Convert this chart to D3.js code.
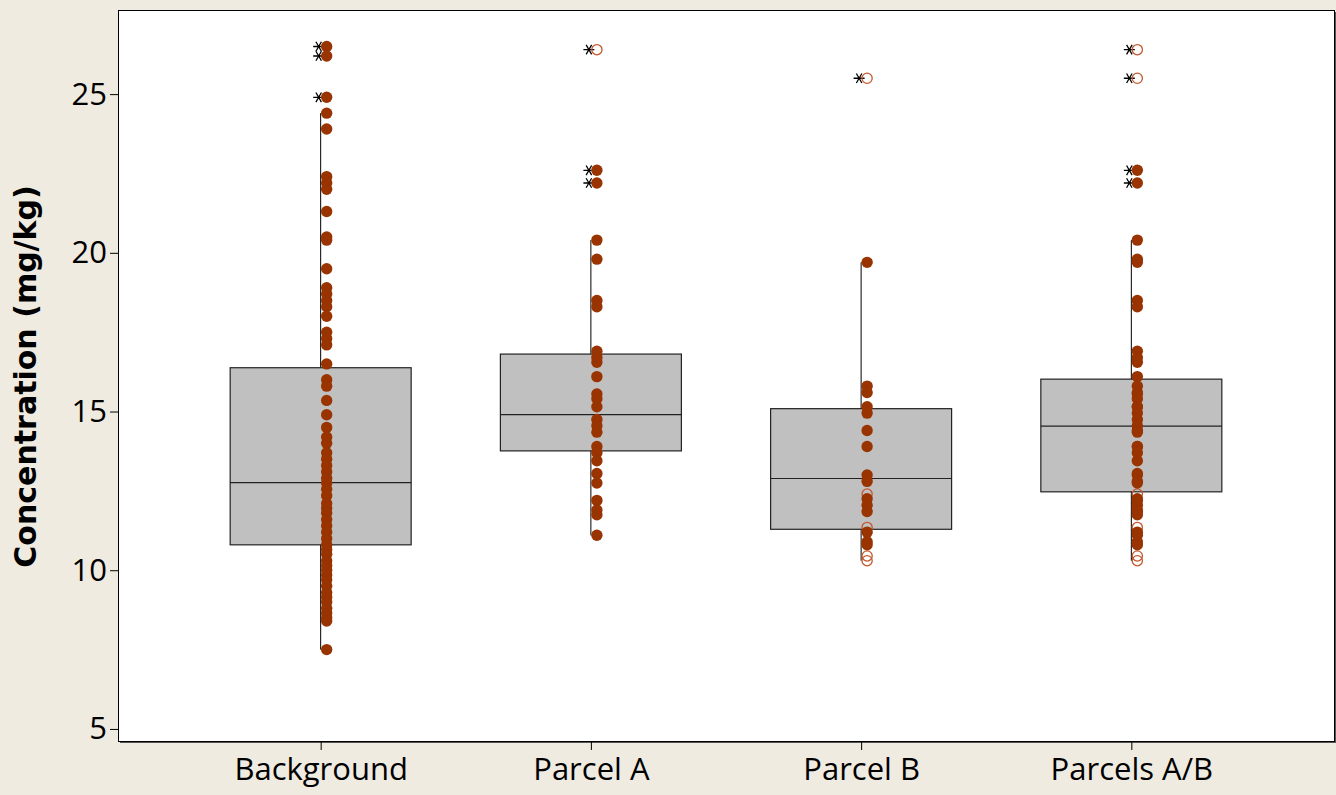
<!DOCTYPE html>
<html><head><meta charset="utf-8">
<script src="https://cdn.jsdelivr.net/npm/d3@7"></script>
<style>html,body{margin:0;padding:0;background:#efebe1;} svg{display:block}</style>
</head><body><svg id="chart" width="1336" height="795"></svg>
<script>
// ---- data ----
const categories = ["Background", "Parcel A", "Parcel B", "Parcels A/B"];
const yTicks = [5, 10, 15, 20, 25];
const q1 = [10.80, 13.76, 11.29, 12.47];
const median = [12.76, 14.90, 12.89, 14.54];
const q3 = [16.38, 16.81, 15.09, 16.02];
const whiskerLow = [7.5, 11.1, 10.3, 10.3];
const whiskerHigh = [24.4, 20.4, 19.7, 20.4];

const backgroundFilled = [24.4, 23.9, 22.4, 22.2, 22.0, 21.3, 20.5, 20.4, 19.5, 18.9, 18.7, 18.5, 18.3, 18.0,
  17.5, 17.3, 17.1, 16.5, 16.0, 15.8, 15.35, 14.9, 14.5, 14.2, 14.0, 13.7, 13.5, 13.3, 13.1, 12.9, 12.75,
  12.55, 12.35, 12.1, 11.95, 11.8, 11.6, 11.4, 11.2, 11.0, 10.8, 10.65, 10.5, 10.3, 10.15, 10.0, 9.85, 9.7,
  9.5, 9.3, 9.15, 9.0, 8.8, 8.65, 8.5, 8.4, 7.5];
const backgroundOpen = [];
const backgroundOutFilled = [26.5, 26.2, 24.9];
const backgroundOutOpen = [];

const parcelAFilled = [20.4, 19.8, 18.5, 18.3, 16.9, 16.7, 16.55, 16.1, 15.55, 15.4, 15.15, 14.75, 14.55,
  14.35, 13.9, 13.7, 13.45, 13.05, 12.75, 12.2, 11.9, 11.75, 11.1];
const parcelAOpen = [];
const parcelAOutFilled = [22.6, 22.2];
const parcelAOutOpen = [26.4];

const parcelBFilled = [19.7, 15.8, 15.6, 15.15, 14.95, 14.4, 13.9, 13.0, 12.8, 12.25, 12.05, 11.85, 11.2, 10.9, 10.8];
const parcelBOpen = [12.4, 11.35, 10.45, 10.3];
const parcelBOutFilled = [];
const parcelBOutOpen = [25.5];

const parcelsABFilled = [20.4, 19.8, 19.7, 18.5, 18.3, 16.9, 16.7, 16.55, 16.1, 15.8, 15.6, 15.55, 15.4, 15.15,
  15.15, 14.95, 14.75, 14.55, 14.4, 14.35, 13.9, 13.9, 13.7, 13.45, 13.05, 13.0, 12.8, 12.75, 12.25, 12.2,
  12.05, 11.9, 11.85, 11.75, 11.2, 11.1, 10.9, 10.8];
const parcelsABOpen = [12.4, 11.35, 10.45, 10.3];
const parcelsABOutFilled = [22.6, 22.2];
const parcelsABOutOpen = [26.4, 25.5];

const filledSets = [backgroundFilled, parcelAFilled, parcelBFilled, parcelsABFilled];
const openSets = [backgroundOpen, parcelAOpen, parcelBOpen, parcelsABOpen];
const outFilledSets = [backgroundOutFilled, parcelAOutFilled, parcelBOutFilled, parcelsABOutFilled];
const outOpenSets = [backgroundOutOpen, parcelAOutOpen, parcelBOutOpen, parcelsABOutOpen];

// ---- layout ----
const L = 118, R = 1334, T = 10, B = 741;
const svg = d3.select("#chart");
const x = d3.scalePoint().domain(categories).range([L, R]).padding(0.75);
const y = d3.scaleLinear().domain([4.62, 27.65]).range([B, T]);
const boxW = 181;
const ptDx = 6, astDx = -2, r = 5.7;
const fillCol = "#993300", openCol = "#c4582c";

// plot area with shadow
svg.append("rect").attr("x", L + 2).attr("y", T + 2).attr("width", R - L).attr("height", B - T).attr("fill", "#555");
svg.append("rect").attr("x", L).attr("y", T).attr("width", R - L).attr("height", B - T)
  .attr("fill", "#fff").attr("stroke", "#000").attr("stroke-width", 1).attr("shape-rendering", "crispEdges");

// axes
const yAxis = d3.axisLeft(y).tickValues(yTicks).tickSize(8).tickPadding(3).tickFormat(d3.format("d"));
const gy = svg.append("g").attr("transform", `translate(${L},0)`).call(yAxis);
gy.select(".domain").remove();
gy.selectAll("text").attr("font-family", "'Open Sans', sans-serif").attr("font-size", 31).attr("fill", "#000");
gy.selectAll("line").attr("stroke", "#000");

const xAxis = d3.axisBottom(x).tickSize(9).tickPadding(8);
const gx = svg.append("g").attr("transform", `translate(0,${B})`).call(xAxis);
gx.select(".domain").remove();
gx.selectAll("text").attr("font-family", "'Open Sans', sans-serif").attr("font-size", 31).attr("fill", "#000");
gx.selectAll("line").attr("stroke", "#000");

svg.append("text").attr("transform", `translate(36,${(183 + 570) / 2}) rotate(-90)`)
  .attr("text-anchor", "middle").attr("font-family", "'DejaVu Sans', sans-serif").attr("font-weight", "bold")
  .attr("font-size", 30).text("Concentration (mg/kg)");

// boxes
const g = svg.append("g");
categories.forEach((c, i) => {
  const cx = x(c);
  g.append("line").attr("x1", cx).attr("x2", cx).attr("y1", y(q3[i])).attr("y2", y(whiskerHigh[i])).attr("stroke", "#000");
  g.append("line").attr("x1", cx).attr("x2", cx).attr("y1", y(q1[i])).attr("y2", y(whiskerLow[i])).attr("stroke", "#000");
  g.append("rect").attr("x", cx - boxW / 2).attr("y", y(q3[i])).attr("width", boxW).attr("height", y(q1[i]) - y(q3[i]))
    .attr("fill", "#c0c0c0").attr("stroke", "#222").attr("stroke-width", 1.2);
  g.append("line").attr("x1", cx - boxW / 2).attr("x2", cx + boxW / 2).attr("y1", y(median[i])).attr("y2", y(median[i]))
    .attr("stroke", "#222").attr("stroke-width", 1.2);
});

// asterisks for outliers
function asterisk(cx, cy, s) {
  let p = "";
  [0, 60, 120].forEach(a => {
    const rad = a * Math.PI / 180, dx = Math.cos(rad) * s, dy = Math.sin(rad) * s;
    p += `M${cx - dx},${cy - dy}L${cx + dx},${cy + dy}`;
  });
  return p;
}
categories.forEach((c, i) => {
  const cx = x(c);
  const outs = outFilledSets[i].concat(outOpenSets[i]);
  g.selectAll(null).data(outs).enter().append("path")
    .attr("d", v => asterisk(cx + astDx, y(v), 5.5)).attr("stroke", "#000").attr("stroke-width", 1.3).attr("fill", "none");
  g.selectAll(null).data(openSets[i].concat(outOpenSets[i])).enter().append("circle")
    .attr("cx", cx + ptDx).attr("cy", v => y(v)).attr("r", r - 0.6)
    .attr("fill", "none").attr("stroke", openCol).attr("stroke-width", 1.3);
  g.selectAll(null).data(filledSets[i].concat(outFilledSets[i])).enter().append("circle")
    .attr("cx", cx + ptDx).attr("cy", v => y(v)).attr("r", r).attr("fill", fillCol);
});
</script></body></html>
